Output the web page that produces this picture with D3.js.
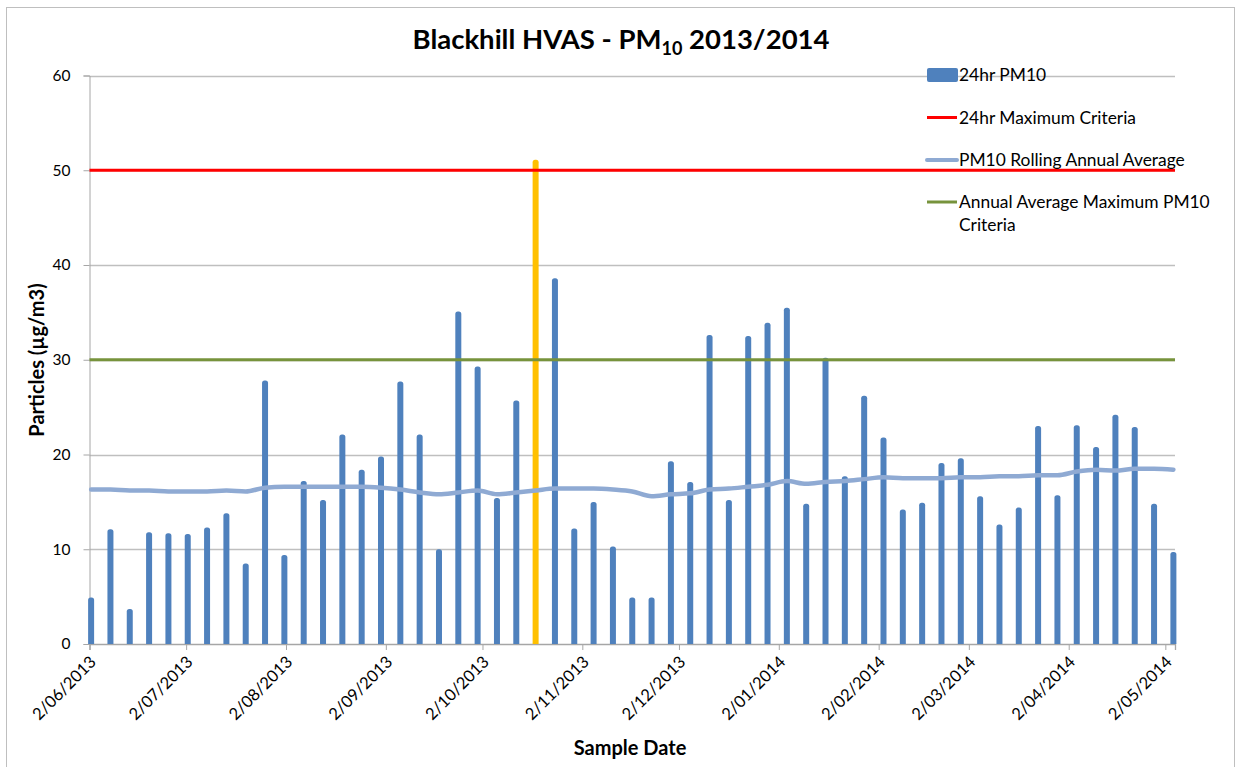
<!DOCTYPE html>
<html>
<head>
<meta charset="utf-8">
<script src="https://cdn.jsdelivr.net/npm/d3@7"></script>
<style>
  body { margin: 0; background: #fff; }
  text { font-family: Lato, "Open Sans", sans-serif; fill: #000; }
</style>
</head>
<body>
<svg id="chart" width="1239" height="767"></svg>
<script>
// sample dates (every 6th day)
const sampleDates = [
	"2013-06-02", "2013-06-08", "2013-06-14", "2013-06-20", "2013-06-26",
	"2013-07-02", "2013-07-08", "2013-07-14", "2013-07-20", "2013-07-26",
	"2013-08-01", "2013-08-07", "2013-08-13", "2013-08-19", "2013-08-25",
	"2013-08-31", "2013-09-06", "2013-09-12", "2013-09-18", "2013-09-24",
	"2013-09-30", "2013-10-06", "2013-10-12", "2013-10-18", "2013-10-24",
	"2013-10-30", "2013-11-05", "2013-11-11", "2013-11-17", "2013-11-23",
	"2013-11-29", "2013-12-05", "2013-12-11", "2013-12-17", "2013-12-23",
	"2013-12-29", "2014-01-04", "2014-01-10", "2014-01-16", "2014-01-22",
	"2014-01-28", "2014-02-03", "2014-02-09", "2014-02-15", "2014-02-21",
	"2014-02-27", "2014-03-05", "2014-03-11", "2014-03-17", "2014-03-23",
	"2014-03-29", "2014-04-04", "2014-04-10", "2014-04-16", "2014-04-22",
	"2014-04-28", "2014-05-04"
];

// 24hr PM10 (µg/m3)
const pm10 = [
	4.9, 12.1, 3.7, 11.8, 11.7, 11.6, 12.3, 13.8, 8.5, 27.8,
	9.4, 17.2, 15.2, 22.1, 18.4, 19.8, 27.7, 22.1, 10.0, 35.1,
	29.3, 15.4, 25.7, 51.1, 38.6, 12.2, 15.0, 10.3, 4.9, 4.9,
	19.3, 17.1, 32.6, 15.2, 32.5, 33.9, 35.5, 14.8, 30.2, 17.7,
	26.2, 21.8, 14.2, 14.9, 19.1, 19.6, 15.6, 12.6, 14.4, 23.0,
	15.7, 23.1, 20.8, 24.2, 22.9, 14.8, 9.7
];

// PM10 rolling annual average
const rollingAvg = [
	16.3, 16.3, 16.2, 16.2, 16.1, 16.1, 16.1, 16.2, 16.1, 16.5,
	16.6, 16.6, 16.6, 16.6, 16.6, 16.5, 16.3, 16.0, 15.8, 16.0,
	16.2, 15.8, 16.0, 16.2, 16.4, 16.4, 16.4, 16.3, 16.1, 15.6,
	15.8, 15.9, 16.3, 16.4, 16.6, 16.8, 17.2, 16.9, 17.1, 17.2,
	17.4, 17.6, 17.5, 17.5, 17.5, 17.6, 17.6, 17.7, 17.7, 17.8,
	17.8, 18.2, 18.4, 18.3, 18.5, 18.5, 18.4
];

const maxCriteria = 50;     // 24hr maximum
const annualCriteria = 30;  // annual average maximum

const yTicks = [0, 10, 20, 30, 40, 50, 60];
const xTickDates = [
	"2013-06-02", "2013-07-02", "2013-08-02", "2013-09-02", "2013-10-02",
	"2013-11-02", "2013-12-02", "2014-01-02", "2014-02-02", "2014-03-02",
	"2014-04-02", "2014-05-02"
];
const axisStart = "2013-06-02";
const axisEnd = "2014-05-05";

const legendItems = [
	{ name: ["24hr PM10"], type: "bar", color: "#4F81BD" },
	{ name: ["24hr Maximum Criteria"], type: "line", color: "#FF0000" },
	{ name: ["PM10 Rolling Annual Average"], type: "line", color: "#8FAAD3" },
	{ name: ["Annual Average Maximum PM10", "Criteria"], type: "line", color: "#77933C" }
];

const parseDate = d3.timeParse("%Y-%m-%d");
const fmtTick = d => `${d.getDate()}/${d3.timeFormat("%m/%Y")(d)}`;
const midDay = d => d3.timeHour.offset(d, 12);

const data = sampleDates.map((s, i) => ({ date: parseDate(s), value: pm10[i], avg: rollingAvg[i] }));

const svg = d3.select("#chart");
const margin = { left: 89.5, right: 1175, top: 75.5, bottom: 644 };

svg.append("rect").attr("width", 1239).attr("height", 767).attr("fill", "#fff");
svg.append("rect")
	.attr("x", 6.5).attr("y", 7.5).attr("width", 1228).attr("height", 770)
	.attr("fill", "none").attr("stroke", "#BFBFBF").attr("stroke-width", 1);

const x = d3.scaleTime()
	.domain([parseDate(axisStart), parseDate(axisEnd)])
	.range([margin.left, margin.right]);
const y = d3.scaleLinear().domain([0, 60]).range([margin.bottom, margin.top]);

// gridlines
svg.append("g").selectAll("line").data(yTicks.filter(d => d > 0)).enter()
	.append("line")
	.attr("x1", margin.left).attr("x2", margin.right)
	.attr("y1", d => Math.round(y(d)) + 0.5).attr("y2", d => Math.round(y(d)) + 0.5)
	.attr("stroke", "#BFBFBF").attr("stroke-width", 1.3);

// y axis
const yAxis = svg.append("g").attr("transform", `translate(${margin.left},0)`)
	.call(d3.axisLeft(y).tickValues(yTicks).tickSize(6).tickPadding(13));
yAxis.select(".domain").attr("stroke", "#A6A6A6");
yAxis.selectAll(".tick line").attr("stroke", "#A6A6A6");
yAxis.selectAll(".tick text").style("font-size", "15.5px").attr("fill", "#000");

// x axis
const xAxis = svg.append("g").attr("transform", `translate(0,${margin.bottom})`)
	.call(d3.axisBottom(x).tickValues(xTickDates.map(parseDate)).tickSize(6).tickFormat(fmtTick));
xAxis.select(".domain").attr("stroke", "#A6A6A6").attr("stroke-width", 1.3);
xAxis.selectAll(".tick line").attr("stroke", "#A6A6A6");
xAxis.selectAll(".tick text")
	.style("font-size", "16.5px").attr("fill", "#000")
	.attr("text-anchor", "end")
	.attr("dy", "0.35em")
	.attr("transform", "translate(3,15) rotate(-45)")
	.attr("x", 0).attr("y", 0);

// bars with rounded tops
const bw = 6, r = 2.5;
svg.append("g").selectAll("path").data(data).enter()
	.append("path")
	.attr("d", d => {
		const cx = x(midDay(d.date));
		const x0 = cx - bw / 2, x1 = cx + bw / 2;
		const top = y(d.value), base = y(0);
		return `M${x0},${base}V${top + r}Q${x0},${top} ${x0 + r},${top}H${x1 - r}Q${x1},${top} ${x1},${top + r}V${base}Z`;
	})
	.attr("fill", d => d.value > maxCriteria ? "#FFC000" : "#4F81BD");

// criteria lines
svg.append("line")
	.attr("x1", x(parseDate(axisStart))).attr("x2", x(parseDate(axisEnd)))
	.attr("y1", y(maxCriteria)).attr("y2", y(maxCriteria))
	.attr("stroke", "#FF0000").attr("stroke-width", 3);
svg.append("line")
	.attr("x1", x(parseDate(axisStart))).attr("x2", x(parseDate(axisEnd)))
	.attr("y1", y(annualCriteria)).attr("y2", y(annualCriteria))
	.attr("stroke", "#77933C").attr("stroke-width", 3);

// rolling average
const line = d3.line()
	.x(d => x(midDay(d.date)))
	.y(d => y(d.avg))
	.curve(d3.curveMonotoneX);
svg.append("path").datum(data)
	.attr("d", line)
	.attr("fill", "none")
	.attr("stroke", "#8FAAD3")
	.attr("stroke-width", 4.5)
	.attr("stroke-linecap", "round");

// title
const title = svg.append("text")
	.attr("x", 621).attr("y", 49)
	.attr("text-anchor", "middle")
	.style("font-size", "27.5px").style("font-weight", "bold");
title.append("tspan").text("Blackhill HVAS - PM");
title.append("tspan").text("10").attr("dy", 6).style("font-size", "18px");
title.append("tspan").text(" 2013/2014").attr("dy", -6);

// axis titles
svg.append("text")
	.attr("transform", "translate(44,360) rotate(-90)")
	.attr("text-anchor", "middle")
	.style("font-size", "20px").style("font-weight", "bold")
	.text("Particles (µg/m3)");
svg.append("text")
	.attr("x", 630).attr("y", 755)
	.attr("text-anchor", "middle")
	.style("font-size", "20px").style("font-weight", "bold")
	.text("Sample Date");

// legend
const legendY = [75, 117.5, 160, 202];
const legend = svg.append("g");
legendItems.forEach((item, i) => {
	const g = legend.append("g").attr("transform", `translate(927,${legendY[i]})`);
	if (item.type === "bar") {
		g.append("rect").attr("x", 0).attr("y", -7).attr("width", 31).attr("height", 14)
			.attr("rx", 2).attr("fill", item.color);
	} else {
		g.append("line").attr("x1", 0).attr("x2", 30).attr("y1", 0).attr("y2", 0)
			.attr("stroke", item.color).attr("stroke-width", i === 2 ? 4 : 3)
			.attr("stroke-linecap", i === 2 ? "round" : "butt");
	}
	item.name.forEach((t, j) => {
		g.append("text").attr("x", 32).attr("y", 6 + j * 22.5)
			.style("font-size", "17.4px").text(t);
	});
});
</script>
</body>
</html>
